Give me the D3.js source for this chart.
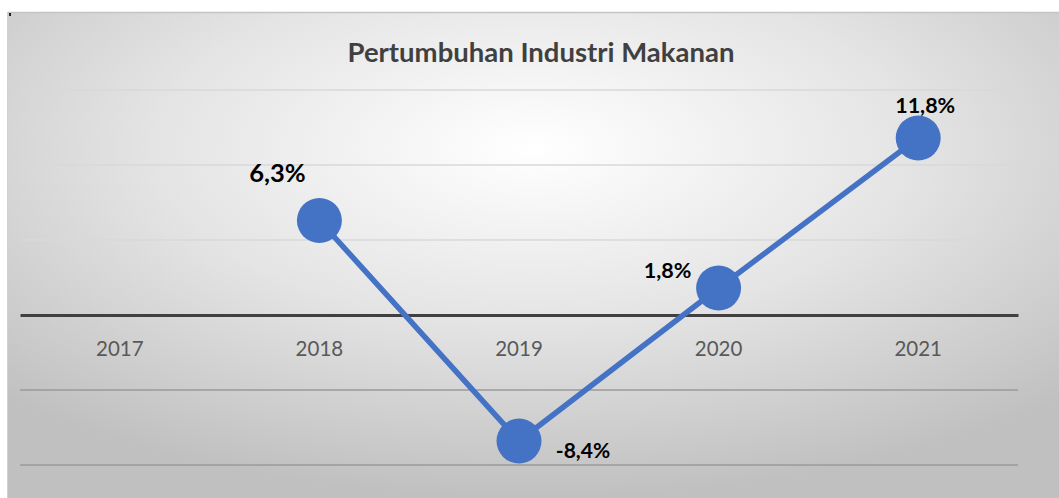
<!DOCTYPE html>
<html><head><meta charset="utf-8">
<script src="https://cdn.jsdelivr.net/npm/d3@7"></script>
<style>html,body{margin:0;padding:0;background:#fff;}svg{display:block;}</style>
</head><body><svg id="c" width="1059" height="498"></svg>
<script>
const title = "Pertumbuhan Industri Makanan";
const years = ["2017","2018","2019","2020","2021"];
const growth = [null, 6.3, -8.4, 1.8, 11.8];
const labels = [null, "6,3%", "-8,4%", "1,8%", "11,8%"];
const gridValues = [-10, -5, 5, 10, 15];

const svg = d3.select("#c");
const defs = svg.append("defs");
const grad = defs.append("radialGradient").attr("id","bg")
  .attr("cx","50%").attr("cy","28%").attr("r","72%").attr("fx","50%").attr("fy","28%");
grad.append("stop").attr("offset","0").attr("stop-color","#ffffff");
grad.append("stop").attr("offset","0.5").attr("stop-color","#e4e4e4");
grad.append("stop").attr("offset","1").attr("stop-color","#c0c0c0");

svg.append("rect").attr("x",8).attr("y",12).attr("width",1051).attr("height",486)
  .attr("fill","url(#bg)");
svg.append("line").attr("x1",8).attr("x2",1059).attr("y1",12.5).attr("y2",12.5).attr("stroke","#c4c4c4").attr("stroke-width",1.5);
svg.append("line").attr("x1",7.5).attr("x2",7.5).attr("y1",12).attr("y2",498).attr("stroke","#d0d0d0").attr("stroke-width",1);
svg.append("rect").attr("x",9).attr("y",13).attr("width",2).attr("height",3).attr("fill","#222");

const x = d3.scaleBand().domain(years).range([20, 1018]);
const y = d3.scaleLinear().domain([-10, 15]).range([465, 90]);

// gridlines
svg.append("g").selectAll("line").data(gridValues).join("line")
  .attr("x1",20).attr("x2",1018)
  .attr("y1",d=>y(d)).attr("y2",d=>y(d))
  .attr("stroke",d=> d>0 ? "#d9d9d9" : "#9a9a9a").attr("stroke-width",1.5);

// zero axis
const xAxis = d3.axisBottom(x).tickSize(0).tickPadding(26.5);
const ag = svg.append("g").attr("transform",`translate(0,${y(0)})`).call(xAxis);
ag.select(".domain").attr("stroke","#404040").attr("stroke-width",3);
ag.selectAll("text").attr("font-family","Lato, 'Open Sans', sans-serif").attr("font-size",20.5).attr("fill","#595959");

// title
svg.append("text").attr("x",541).attr("y",62).attr("text-anchor","middle")
  .attr("font-family","Lato, 'Open Sans', sans-serif").attr("font-weight","bold")
  .attr("font-size",27.5).attr("fill","#404040").text(title);

const pts = years.map((yr,i)=>({yr, v:growth[i], lab:labels[i]})).filter(d=>d.v!==null);
const cx = d => x(d.yr) + x.bandwidth()/2;

const line = d3.line().x(cx).y(d=>y(d.v));
svg.append("path").datum(pts).attr("d",line).attr("fill","none")
  .attr("stroke","#4472C4").attr("stroke-width",5.5).attr("stroke-linejoin","round");

svg.append("g").selectAll("circle").data(pts).join("circle")
  .attr("cx",cx).attr("cy",d=>y(d.v)).attr("r",22.5).attr("fill","#4472C4");

const labPos = {
  "2018": {dx:-42, dy:-38.5, size:25.5},
  "2019": {dx:64, dy:17, size:21},
  "2020": {dx:-51, dy:-10, size:21.5},
  "2021": {dx:7, dy:-25, size:21.5}
};
svg.append("g").selectAll("text").data(pts).join("text")
  .attr("x",d=>cx(d)+labPos[d.yr].dx).attr("y",d=>y(d.v)+labPos[d.yr].dy)
  .attr("text-anchor","middle")
  .attr("font-family","Lato, 'Open Sans', sans-serif").attr("font-weight","bold")
  .attr("font-size",d=>labPos[d.yr].size).attr("fill","#000").text(d=>d.lab);
</script></body></html>
